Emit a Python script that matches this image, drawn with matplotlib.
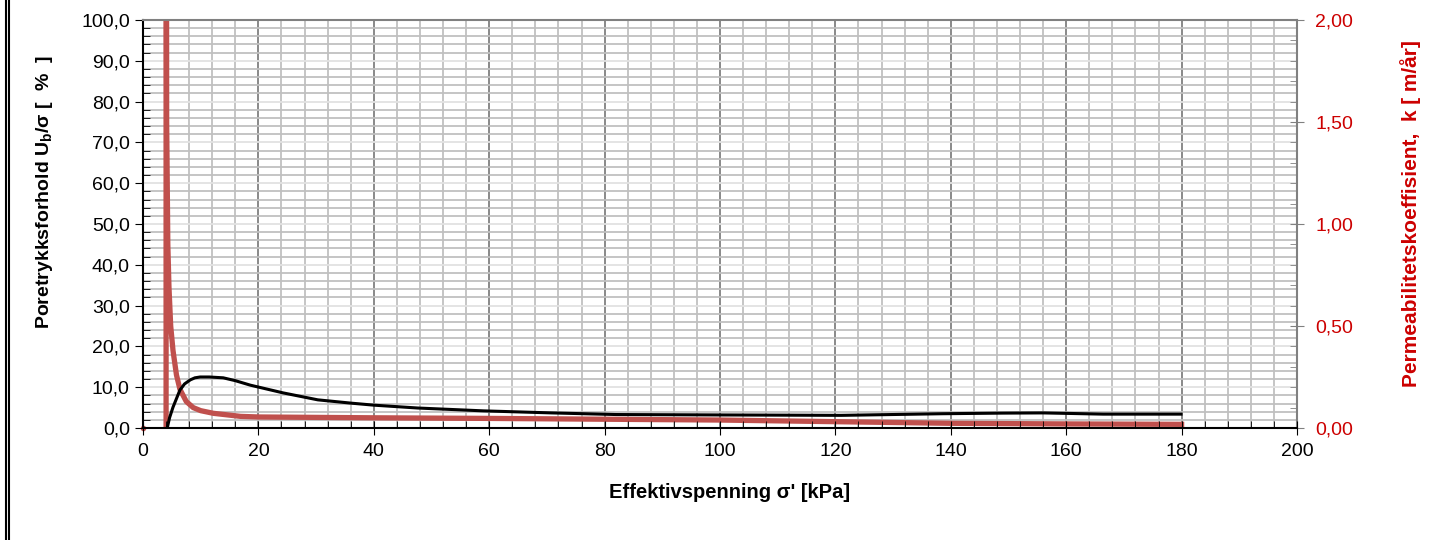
import numpy as np
import matplotlib
matplotlib.use("Agg")
import matplotlib.pyplot as plt
from matplotlib.ticker import MultipleLocator, FuncFormatter
from matplotlib.lines import Line2D

plt.rcParams['font.family'] = ['Liberation Sans', 'DejaVu Sans']
plt.rcParams['mathtext.fontset'] = 'custom'
plt.rcParams['mathtext.rm'] = 'Liberation Sans'
plt.rcParams['mathtext.bf'] = 'Liberation Sans:bold'

# Poretrykksforhold Ub/sigma [%] vs effektivspenning [kPa]
sigma_u = [4.2, 4.6, 5.2, 6.4, 7.2, 8.2, 9.0, 9.9, 11.5, 13.9, 16.0, 18.6, 24.3,
           30.3, 36.0, 40.0, 47.6, 59.0, 70.8, 82.0, 100.0, 121.0, 138.6,
           149.0, 156.0, 166.4, 179.9]
ub_ratio = [0.0, 2.5, 5.1, 9.3, 10.8, 11.8, 12.3, 12.5, 12.5, 12.3, 11.6, 10.5, 8.6,
            6.9, 6.1, 5.6, 4.9, 4.2, 3.7, 3.3, 3.2, 3.1, 3.5,
            3.65, 3.7, 3.4, 3.4]

# Permeabilitetskoeffisient k [m/aar]
sigma_k = [4.0, 4.0, 4.1, 4.3, 4.5, 4.8, 5.2, 5.8, 6.4, 7.5, 8.7, 10.0, 12.2,
           16.9, 20.0, 40.0, 60.0, 80.0, 100.0, 120.0, 140.0, 160.0, 180.0]
k_perm = [0.0, 5.0, 1.5, 0.9, 0.69, 0.5, 0.38, 0.26, 0.19, 0.13, 0.10, 0.085, 0.072,
          0.057, 0.054, 0.05, 0.047, 0.043, 0.039, 0.031, 0.023, 0.02, 0.018]

comma = lambda nd: FuncFormatter(lambda v, p: f"{v:.{nd}f}".replace('.', ','))

fig = plt.figure(figsize=(14.47, 5.4), dpi=100)
ax2 = fig.add_axes([143/1447, 112/540, 1154/1447, 408/540])
ax = fig.add_axes(ax2.get_position(), sharex=ax2)
ax.patch.set_visible(False)

ax.set_xlim(0, 200)
ax.set_ylim(0, 100)
ax2.set_ylim(0, 2)

ax.xaxis.set_major_locator(MultipleLocator(20))
ax.xaxis.set_minor_locator(MultipleLocator(4))
ax.yaxis.set_major_locator(MultipleLocator(10))
ax.yaxis.set_minor_locator(MultipleLocator(2))
ax.yaxis.set_major_formatter(comma(1))

# grid on the lower axes, under both curves
ax2.yaxis.set_major_locator(MultipleLocator(0.2))
ax2.yaxis.set_minor_locator(MultipleLocator(0.04))
ax2.grid(which='minor', axis='x', color='#c0c0c0', lw=1.3)
ax2.grid(which='major', axis='x', color='#808080', lw=1.3)
ax2.grid(which='minor', axis='y', color='#c0c0c0', lw=1.3)
ax2.grid(which='major', axis='y', color='#e2e2e2', lw=1.3)
ax2.set_axisbelow(True)
ax2.tick_params(which='both', bottom=False, labelbottom=False,
                left=False, labelleft=False)
for s in ax2.spines.values():
    s.set_visible(False)

ax.tick_params(axis='x', which='major', direction='inout', length=10, labelsize=14, pad=6)
ax.tick_params(axis='x', which='minor', direction='in', length=5)
ax.tick_params(axis='y', which='major', direction='out', length=6, labelsize=14)
ax.tick_params(axis='y', which='minor', direction='in', length=5)

# right-hand k axis
axr = ax.secondary_yaxis('right', functions=(lambda v: v / 50, lambda v: v * 50))
axr.yaxis.set_major_locator(MultipleLocator(0.5))
axr.yaxis.set_minor_locator(MultipleLocator(0.1))
axr.yaxis.set_major_formatter(comma(2))
axr.tick_params(axis='y', which='major', direction='inout', length=10, labelsize=14,
                colors='#808080', labelcolor='#cc0000', pad=8)
axr.tick_params(axis='y', which='minor', direction='in', length=5, colors='#808080')
axr.spines['right'].set_color('#808080')
axr.spines['right'].set_linewidth(1.5)

for s in ['left', 'bottom']:
    ax.spines[s].set_color('black')
    ax.spines[s].set_linewidth(1.5)
ax.spines['top'].set_color('#808080')
ax.spines['top'].set_linewidth(1.5)
ax.spines['right'].set_visible(False)

ax2.plot(sigma_k, k_perm, color='#c0504d', lw=3.8, solid_joinstyle='round', zorder=3)
ax2.plot([0], [0], 'o', color='#c0504d', ms=3, clip_on=False)
ax.plot(sigma_u, ub_ratio, color='black', lw=2.2, zorder=4)

ax.set_xlabel("Effektivspenning σ' [kPa]", fontsize=14.5, fontweight='bold')
ax.xaxis.set_label_coords(0.508, -0.135)
ax.set_ylabel(r"Poretrykksforhold U$_\mathbf{b}$/σ [  %  ]", fontsize=14,
              fontweight='bold')
ax.yaxis.set_label_coords(-0.0762, 0.578)
axr.set_ylabel("Permeabilitetskoeffisient,  k [ m/år]", fontsize=15,
               fontweight='bold', color='#cc0000')
axr.yaxis.set_label_coords(1.0893, 0.525, transform=ax.transAxes)

# double border on the left edge
for xp in (5.5/1447, 8.5/1447):
    fig.add_artist(Line2D([xp, xp], [0, 1], transform=fig.transFigure,
                          color='black', lw=1.5))

fig.savefig('out.png', dpi=100)
